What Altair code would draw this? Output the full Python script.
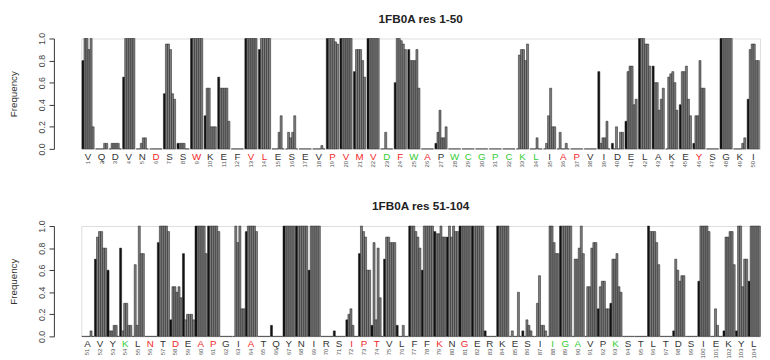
import altair as alt
import pandas as pd

# ---------------- data ----------------
seq1 = "VQDVNDSSWK" "EFVLESEVPV" "MVDFWAPWCG" "PCKLIAPVID" "ELAKEYSGKI"
cls1 = "kkkkkrkkrk" "kkrrkkkkrr" "rrgrgrkggg" "ggggkrrkkk" "kkkkkrkkkk"
seq2 = "AVYKLNTDEA" "PGIATQYNIR" "SIPTVLFFKN" "GERKESIIGA" "VPKSTLTDSI" "EKYL"
cls2 = "kkkgkrkrkr" "rkkrkkkkkk" "krrrkkkkrk" "rkkkkkkggg" "kkgkkkkkkk" "kkkk"

Z = [0, 0, 0, 0, 0, 0]
O = [1, 1, 1, 1, 1, 1]

# six bars per residue: first (black) then five grey
vals1 = [
    [0.8, 1.0, 1.0, 0.9, 1.0, 0.2],      # 1
    [0, 0, 0, 0, 0.05, 0.05],            # 2
    [0, 0.05, 0.05, 0.05, 0.05, 0],      # 3
    [0.65, 1, 1, 1, 1, 1],               # 4
    [0, 0, 0.05, 0.1, 0.1, 0],           # 5
    Z,                                   # 6
    [0.5, 0.95, 0.95, 0.9, 0.5, 0.45],   # 7
    [0.05, 0.05, 0.05, 0.05, 0, 0],      # 8
    O,                                   # 9
    [0.3, 0.55, 0.55, 0.2, 0.2, 0.2],    # 10
    [0.65, 0.55, 0.55, 0.55, 0.55, 0.25],# 11
    Z,                                   # 12
    O,                                   # 13
    [0.9, 1, 1, 1, 1, 1],                # 14
    [0, 0, 0, 0.15, 0.3, 0],             # 15
    [0, 0.15, 0.1, 0.15, 0.3, 0],        # 16
    Z,                                   # 17
    [0, 0, 0, 0, 0.03, 0],               # 18
    [1, 1, 1, 1, 0.97, 0.95],            # 19
    O,                                   # 20
    [0.7, 0.9, 0.9, 0.9, 0.8, 0.65],     # 21
    O,                                   # 22
    [0, 0, 0.15, 0, 0, 0],               # 23
    [0.6, 1, 1, 0.98, 0.95, 0.9],        # 24
    [0.9, 0.8, 0.8, 0.8, 0.9, 0.55],     # 25
    Z,                                   # 26
    [0.05, 0.15, 0.35, 0.1, 0.1, 0.2],   # 27
    Z, Z, Z, Z, Z,                       # 28-32
    [0, 0.85, 0.9, 0.9, 0.8, 0.95],      # 33
    [0, 0, 0, 0.1, 0, 0],                # 34
    [0, 0.05, 0.3, 0.55, 0.2, 0.2],      # 35
    [0, 0.15, 0, 0, 0.05, 0],            # 36
    Z, Z,                                # 37-38
    [0.7, 0.05, 0.1, 0.1, 0.25, 0],      # 39
    [0.05, 0, 0.2, 0, 0.15, 0.15],       # 40
    [0.25, 0.7, 0.75, 0.75, 0.4, 0.45],  # 41
    [1, 1, 1, 0.95, 0.95, 0.75],         # 42
    [0.75, 0.6, 0.6, 0.35, 0.45, 0.55],  # 43
    [0, 0.65, 0.68, 0.7, 0.6, 0.35],     # 44
    [0.4, 0.7, 0.7, 0.75, 0.45, 0.3],    # 45
    [0.05, 0.3, 0.3, 0.8, 0.55, 0.55],   # 46
    Z,                                   # 47
    O,                                   # 48
    [0, 0, 0, 0, 0.05, 0.1],             # 49
    [0.45, 0.9, 0.95, 0.95, 0.8, 0.8],   # 50
]

vals2 = [
    [0, 0, 0, 0, 0.05, 0],               # 51
    [0.7, 0.9, 0.95, 0.95, 0.8, 0.8],    # 52
    [0.6, 0.05, 0.05, 0.1, 0.1, 0],      # 53
    [0.8, 0.05, 0.3, 0.3, 0.1, 0.1],     # 54
    [0, 0.65, 0.1, 1.0, 0.75, 0.75],     # 55
    Z,                                   # 56
    [0.85, 1, 1, 1, 1, 0.95],            # 57
    [0.15, 0.45, 0.45, 0.4, 0.45, 0.35], # 58
    [0.75, 0.15, 0.2, 0.2, 0.2, 0.15],   # 59
    [1, 1, 1, 1, 1, 0.75],               # 60
    [1, 1, 1, 1, 1, 0.95],               # 61
    Z,                                   # 62
    [0, 1.0, 0.85, 1.0, 0.25, 0.25],     # 63
    [0.95, 1, 1, 1, 1, 0.95],            # 64
    Z,                                   # 65
    [0.1, 0, 0, 0, 0, 0],                # 66
    O, O,                                # 67-68
    [0.6, 1, 1, 1, 1, 1],                # 69
    Z,                                   # 70
    [0.05, 0, 0, 0, 0, 0],               # 71
    [0.15, 0.2, 0.25, 0.1, 0, 0],        # 72
    [0.75, 1.0, 0.95, 0.9, 0.6, 0.6],    # 73
    [0.1, 0.85, 0.15, 0.8, 0.35, 0],     # 74
    [0.7, 0.9, 0.9, 0.85, 0.85, 0.85],   # 75
    [0.1, 0, 0, 0.1, 0, 0],              # 76
    [1, 1, 1, 0.95, 0.9, 0.8],           # 77
    [0.6, 1, 1, 1, 1, 1],                # 78
    [0.95, 0.93, 0.93, 1.0, 0.9, 0.9],   # 79
    [0.9, 1, 0.9, 1, 0.95, 0.95],        # 80
    O, O,                                # 81-82
    [0.05, 0, 0, 0, 0, 0],               # 83
    O,                                   # 84
    [0, 0.05, 0, 0, 0.4, 0],             # 85
    [0.05, 0, 0.15, 0.1, 0.05, 0],       # 86
    [0, 0.3, 0.55, 0.1, 0.1, 0.05],      # 87
    [0, 1, 1, 0.85, 0.75, 0.75],         # 88
    O,                                   # 89
    [0, 0.7, 0.7, 0.8, 1.0, 0.75],       # 90
    [0, 0.45, 0.45, 0.8, 0.85, 0.85],    # 91
    [0.25, 0.45, 0.5, 0.5, 0.25, 0.25],  # 92
    [0.3, 0.7, 0.7, 0.75, 0.45, 0.4],    # 93
    Z, Z,                                # 94-95
    [1, 0.95, 0.95, 0.95, 0.85, 0.65],   # 96
    Z,                                   # 97
    [0.05, 0.7, 0.6, 0.5, 0.55, 0.55],   # 98
    Z,                                   # 99
    [0.5, 1, 1, 1, 1, 0.95],             # 100
    [0, 0, 0.25, 0.1, 0, 0],             # 101
    [0.05, 0.9, 0.9, 0.95, 0.95, 0.65],  # 102
    [0.05, 1.0, 1.0, 0.45, 0.7, 0.7],    # 103
    [0.5, 1, 1, 1, 1, 1],                # 104
]

titles = ["1FB0A res 1-50", "1FB0A res 51-104"]
y_ticks = [0, 0.2, 0.4, 0.6, 0.8, 1.0]

W = 695
H = 113
FONT = "Liberation Sans"


def panel(seq, cls, vals, start, title):
    res = list(range(start, start + len(seq)))
    rows = []
    for r, v in zip(res, vals):
        for k, val in enumerate(v):
            rows.append({"res": r, "k": k, "v": val})
    bars_df = pd.DataFrame(rows)
    lab_df = pd.DataFrame({"res": res, "aa": list(seq), "cls": list(cls)})

    xscale = alt.Scale(domain=res, paddingInner=0.1, paddingOuter=0.05)
    bars = alt.Chart(bars_df).mark_bar(stroke="#1a1a1a", strokeWidth=0.5).encode(
        x=alt.X("res:O", scale=xscale, title=None,
                axis=alt.Axis(labelAngle=270, labelFontSize=6, labelColor="#555",
                              labelPadding=12, ticks=False, domain=False,
                              labelAlign="right", labelBaseline="middle")),
        xOffset=alt.XOffset("k:O"),
        y=alt.Y("v:Q", scale=alt.Scale(domain=[0, 1], nice=False),
                axis=alt.Axis(values=y_ticks, format=".1f", labelAngle=270,
                              labelAlign="center", labelBaseline="bottom",
                              labelFontSize=9, labelColor="#444", labelPadding=3,
                              title="Frequency", titleFontSize=10,
                              titleFontWeight="normal", titleColor="#333",
                              titlePadding=19, offset=28, grid=False,
                              tickSize=5, domainColor="#333", tickColor="#333")),
        fill=alt.condition("datum.k == 0", alt.value("#111111"), alt.value("#7e7e7e")),
    )
    letters = alt.Chart(lab_df).mark_text(fontSize=10, baseline="middle", font=FONT).encode(
        x=alt.X("res:O", scale=xscale),
        y=alt.value(H + 8),
        text="aa:N",
        color=alt.Color("cls:N", scale=alt.Scale(domain=["k", "r", "g"],
                                                  range=["#333333", "#f02828", "#33cc33"]),
                        legend=None),
    )
    return alt.layer(bars, letters).properties(
        width=W, height=H,
        title=alt.TitleParams(title, fontSize=12, fontWeight="bold", font=FONT,
                              anchor="middle", offset=7, color="#222"),
    )


p1 = panel(seq1, cls1, vals1, 1, titles[0])
p2 = panel(seq2, cls2, vals2, 51, titles[1])

chart = alt.vconcat(p1, p2, spacing=32).properties(padding=0).configure_view(
    stroke=None
).configure_axis(labelFont=FONT, titleFont=FONT).configure(background="white")

chart.save("out.html", embed_options={"renderer": "svg", "actions": False})
